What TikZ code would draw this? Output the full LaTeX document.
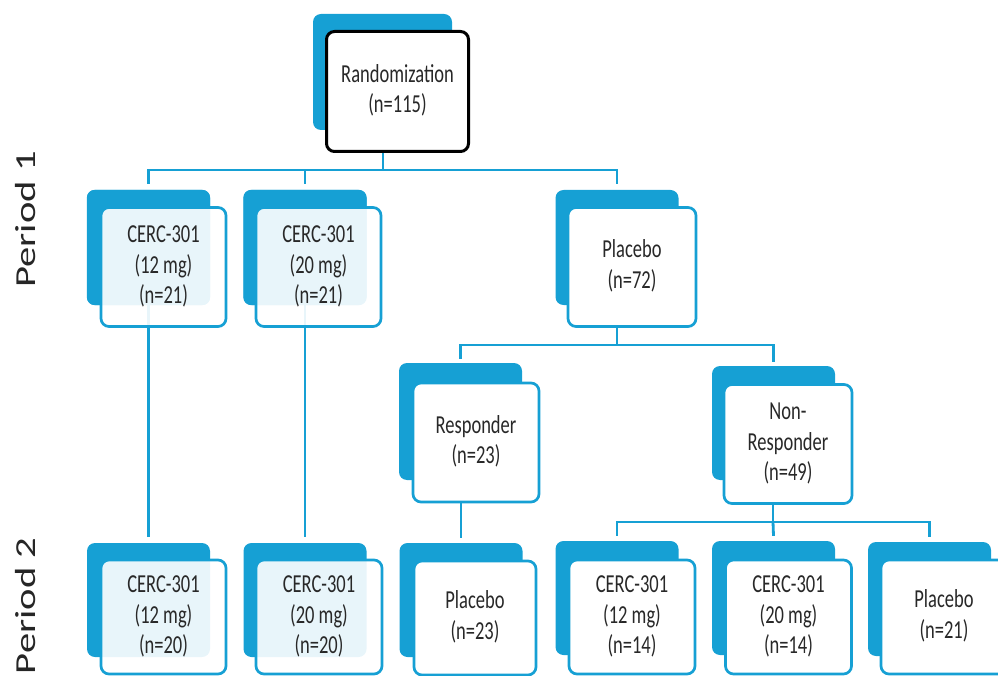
\documentclass[tikz,border=0pt]{standalone}
\usepackage{fontspec}
\usepackage{graphicx}
\setmainfont{Carlito}
\definecolor{cblue}{RGB}{22,160,212}
\definecolor{ctext}{RGB}{40,40,40}
\newcommand{\boxtext}[1]{\scalebox{1}[1.4]{\fontsize{18.5}{21.5}\selectfont\begin{tabular}{@{}c@{}}#1\end{tabular}}}
\newcommand{\periodtext}[1]{\scalebox{1.4}[1]{\fontsize{29}{34}\selectfont #1}}
\begin{document}
\begin{tikzpicture}[x=1pt,y=-1pt,
  backbox/.style={fill=cblue, rounded corners=8pt, inner sep=0pt, minimum width=123pt, minimum height=115pt},
  frontbox/.style={draw=cblue, line width=2.7pt, fill=white, rounded corners=8pt, inner sep=0pt,
     minimum width=125pt, minimum height=119pt, text=ctext, align=center},
  clearbox/.style={frontbox, fill opacity=0.9, text opacity=1},
  conn/.style={draw=cblue, line width=2.8pt},
  periodlbl/.style={rotate=90, anchor=base, text=black!85, inner sep=0pt}
]
\useasboundingbox (0,0) rectangle (998,676);
\clip (0,0) rectangle (998,676);

% junction points
\coordinate (j1) at (383,170);
\coordinate (j2) at (617,345);
\coordinate (j3) at (773,522);

% back boxes
\path
  (382.5,72)  node[backbox, minimum width=139pt, minimum height=116pt] (randback) {}
  (148.5,247.5) node[backbox] (c12back) {}
  (305,247.5)   node[backbox] (c20back) {}
  (617,247.5)   node[backbox] (plaback) {}
  (460.5,421.5) node[backbox, minimum height=117pt] (respback) {}
  (773.5,423)   node[backbox, minimum height=114pt] (nonrespback) {}
  (148.5,600)   node[backbox, minimum height=114pt] (c12bback) {}
  (305,600)     node[backbox, minimum height=114pt] (c20bback) {}
  (461,600)     node[backbox, minimum height=114pt] (plabback) {}
  (617,598)     node[backbox, minimum height=114pt] (c12cback) {}
  (773.5,598)   node[backbox, minimum height=114pt] (c20cback) {}
  (929.5,599)   node[backbox, minimum height=114pt] (placback) {};

% top box
\node[draw=black, line width=3pt, fill=white, rounded corners=8pt, inner sep=0pt,
      minimum width=142pt, minimum height=120pt, text=ctext, align=center]
      (rand) at (397.5,91.5) {\boxtext{Randomization\\(n=115)}};

% connectors Period 1
\draw[conn] (rand.south -| j1) -- (j1);
\draw[conn] ([yshift=6pt]c12back.north) |- (j1) -| ([yshift=6pt]plaback.north);
\draw[conn] ([yshift=6pt]c20back.north) -- (c20back.north |- j1);
\draw[conn] (c12back.south) -- ([yshift=6pt]c12bback.north);
\draw[conn] (c20back.south) -- ([yshift=6pt]c20bback.north);

% redraw back boxes over connector ends
\fill[cblue, rounded corners=8pt] (c12back.south west) rectangle (c12back.north east);
\fill[cblue, rounded corners=8pt] (c20back.south west) rectangle (c20back.north east);

\node[clearbox] (c12) at (163.5,267) {\boxtext{CERC-301\\(12 mg)\\(n=21)}};
\node[clearbox] (c20) at (318.5,267) {\boxtext{CERC-301\\(20 mg)\\(n=21)}};
\node[frontbox, minimum width=128pt] (pla) at (632,267) {\boxtext{Placebo\\(n=72)}};

\draw[conn] (pla.south -| j2) -- (j2);
\draw[conn] ([yshift=4pt]respback.north) |- (j2) -| ([yshift=4pt]nonrespback.north);

\node[frontbox, minimum width=126pt] (resp) at (476,442.5) {\boxtext{Responder\\(n=23)}};
\node[frontbox, minimum width=128pt] (nonresp) at (788,444) {\boxtext{Non-\\Responder\\(n=49)}};

\draw[conn] (plabback.north |- resp.south) -- ([yshift=5pt]plabback.north);
\draw[conn] (nonresp.south -| j3) -- (j3);
\draw[conn] ([yshift=5pt]c12cback.north) |- (j3) -| ([yshift=5pt]placback.north);
\draw[conn] (j3) -- ([yshift=5pt]c20cback.north);

% Period 2 front boxes
\node[clearbox, minimum height=114pt] (c12b) at (163.5,617) {\boxtext{CERC-301\\(12 mg)\\(n=20)}};
\node[clearbox, minimum width=126pt, minimum height=114pt] (c20b) at (319,617) {\boxtext{CERC-301\\(20 mg)\\(n=20)}};
\node[frontbox, minimum width=122pt, minimum height=114pt] (plab) at (475,618) {\boxtext{Placebo\\(n=23)}};
\node[frontbox, minimum width=126pt, minimum height=114pt] (c12c) at (632,617) {\boxtext{CERC-301\\(12 mg)\\(n=14)}};
\node[frontbox, minimum width=126pt, minimum height=114pt] (c20c) at (788.5,617) {\boxtext{CERC-301\\(20 mg)\\(n=14)}};
\node[frontbox, minimum width=126pt, minimum height=114pt] (plac) at (944,617) {\boxtext{Placebo\\(n=21)}};

% period labels
\node[periodlbl] (p1) at (35,219.5) {\periodtext{Period 1}};
\node[periodlbl] (p2) at (35,606) {\periodtext{Period 2}};
\end{tikzpicture}
\end{document}
